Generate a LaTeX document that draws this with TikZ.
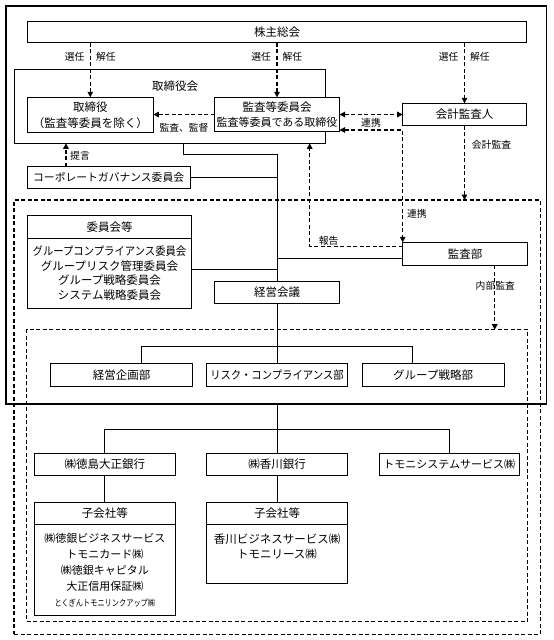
\documentclass[tikz,border=0pt]{standalone}
\usepackage{fontspec}
\usepackage{graphicx}
\newfontfamily\jp{Noto Sans CJK JP}
\usetikzlibrary{arrows.meta}
\begin{document}
\begin{tikzpicture}[x=1pt,y=-1pt,
 every node/.style={inner sep=0pt, outer sep=0pt},
 >={Triangle[length=5.5pt,width=5.5pt]},
 bx/.style={draw, line width=1pt, align=center, font=\jp\fontsize{11.5}{15.5}\selectfont},
 wb/.style={bx, fill=white},
 lb/.style={font=\jp\fontsize{9.8}{12}\selectfont},
 ln/.style={line width=1pt},
 da/.style={line width=1.1pt, dash pattern=on 4pt off 2.5pt},
 fr/.style={draw, line width=1.5pt},
 dfr/.style={draw, line width=1.1pt, dash pattern=on 4pt off 2.5pt}]
\useasboundingbox (0,0) rectangle (554,640);
% frames
\node[fr, minimum width=540.5pt, minimum height=398pt] (outer) at (276.25,205) {};
\node[dfr, minimum width=526.3pt, minimum height=434.3pt] (grp) at (277.15,417.15) {};
\node[dfr, minimum width=501pt, minimum height=292pt] (inner) at (277.2,475.7) {};
% boxes
\node[bx, minimum width=499pt, minimum height=21pt] (kabu) at (277,32.2) {株主総会};
\node[bx, minimum width=311.3pt, minimum height=74.3pt] (torikai) at (169.65,106.15) {};
\node[font=\jp\fontsize{11.5}{14}\selectfont] (torikailbl) at (175,86) {取締役会};
\node[bx, minimum width=126pt, minimum height=35.4pt] (tori) at (90.3,115) {取締役\\（監査等委員を除く）};
\node[wb, minimum width=125pt, minimum height=34.4pt] (kansa) at (277,114.5) {監査等委員会\\{\fontsize{11}{15.5}\selectfont 監査等委員である取締役}};
\node[bx, minimum width=123.6pt, minimum height=22.4pt] (kaikei) at (464.5,114.5) {会計監査人};
\node[bx, font=\jp\fontsize{10.8}{13}\selectfont, minimum width=162.7pt, minimum height=21.6pt] (cg) at (108.65,177.5) {コーポレートガバナンス委員会};
\node[bx, minimum width=164.4pt, minimum height=22.3pt] (iinh) at (109.5,226.85) {委員会等};
\node[bx, minimum width=164.4pt, minimum height=70pt, font=\jp\fontsize{11.5}{14.5}\selectfont] (iinb) at (109.5,273) {\scalebox{0.9}[1]{グループコンプライアンス委員会}\\グループリスク管理委員会\\グループ戦略委員会\\システム戦略委員会};
\node[bx, minimum width=125pt, minimum height=22pt] (keiei) at (277,292) {経営会議};
\node[bx, minimum width=125pt, minimum height=23pt] (kansabu) at (465.2,253.8) {監査部};
\node[bx, minimum width=142pt, minimum height=23.3pt] (kikaku) at (121.7,374.7) {経営企画部};
\node[bx, minimum width=141pt, minimum height=23.3pt] (risk) at (277,374.7) {\scalebox{0.9}[1]{リスク・コンプライアンス部}};
\node[bx, minimum width=142.3pt, minimum height=23.3pt] (gsen) at (433.15,374.7) {グループ戦略部};
\node[bx, minimum width=141.7pt, minimum height=21.7pt] (toku) at (104.85,464.15) {㈱徳島大正銀行};
\node[bx, minimum width=141pt, minimum height=21.7pt] (kaga) at (277,464.15) {㈱香川銀行};
\node[bx, font=\jp\fontsize{11}{13}\selectfont, minimum width=140pt, minimum height=21.7pt] (tomo) at (449.3,464.15) {トモニシステムサービス㈱};
\node[bx, minimum width=141.7pt, minimum height=22.3pt] (sub1h) at (104.85,513.15) {子会社等};
\node[bx, minimum width=141.7pt, minimum height=91pt, font=\jp\fontsize{11}{16}\selectfont] (sub1b) at (104.85,569.8) {㈱徳銀ビジネスサービス\\トモニカード㈱\\㈱徳銀キャピタル\\大正信用保証㈱\\\scalebox{0.8}[1]{\fontsize{9}{16}\selectfont とくぎんトモニリンクアップ㈱}};
\node[bx, minimum width=141pt, minimum height=22.3pt] (sub2h) at (277,513.15) {子会社等};
\node[bx, minimum width=141pt, minimum height=59pt] (sub2b) at (277,553.8) {香川ビジネスサービス㈱\\トモニリース㈱\\\mbox{}};
% solid connectors
\draw[ln] ([xshift=13.6pt]torikai.south) -- ++(0,10.7) -| (keiei.north);
\draw[ln] (cg.east) -- (cg.east -| keiei.north);
\draw[ln] ([yshift=3.3pt]iinb.east) -- ([yshift=3.3pt]iinb.east -| keiei.north);
\draw[ln] ([yshift=-4.2pt]kansabu.west) -- ([yshift=-4.2pt]kansabu.west -| keiei.north);
\coordinate (b1) at (277,346.3);
\draw[ln] (keiei.south) -- (risk.north);
\draw[ln] ([xshift=20pt]kikaku.north) |- (b1) -| ([xshift=-20.2pt]gsen.north);
\draw[ln] (outer.south -| kaga.north) -- (kaga.north);
\coordinate (b2) at (277,429.3);
\draw[ln] (toku.north) |- (b2) -| (tomo.north);
\draw[ln] (toku.south) -- (sub1h.north);
\draw[ln] (kaga.south) -- (sub2h.north);
% dashed arrows
\draw[da,->] (kabu.south -| tori.north) -- (tori.north);
\draw[da,->] (kabu.south -| kansa.north) -- (kansa.north);
\draw[da,->] (kabu.south -| kaikei.north) -- (kaikei.north);
\draw[da,->] (kansa.west) -- (kansa.west -| tori.east);
\draw[da,<->] (kansa.east) -- (kaikei.west);
\draw[da,<->] ([yshift=-15.5pt]kansa.east) -| (kansabu.north west);
\draw[da,->] ([yshift=7.5pt]kansabu.west) -| ([xshift=-15.6pt]torikai.south east);
\draw[da,->] (kaikei.south) -- (kaikei.south |- grp.north);
\draw[da,->] ([xshift=29.5pt]kansabu.south) -- ([xshift=29.5pt]kansabu.south |- inner.north);
\draw[da,->] ([xshift=-42.7pt]cg.north) -- ([xshift=-42.7pt]cg.north |- torikai.south);
% labels
\node[lb, anchor=east] (sen1) at (84.5,57) {選任};
\node[lb, anchor=west] (kai1) at (96,57) {解任};
\node[lb, anchor=east] (sen2) at (271,57) {選任};
\node[lb, anchor=west] (kai2) at (282.5,57) {解任};
\node[lb, anchor=east] (sen3) at (458.5,57) {選任};
\node[lb, anchor=west] (kai3) at (470,57) {解任};
\node[lb] (kanlbl) at (184,128) {監査、監督};
\node[lb] (ren1) at (371,122.5) {連携};
\node[lb, anchor=west] (ren2) at (407,213.5) {連携};
\node[lb] (kaikeilbl) at (491.5,144.3) {会計監査};
\node[lb] (hokoku) at (328.7,240.7) {報告};
\node[lb] (naibu) at (495.3,285.7) {内部監査};
\node[lb] (teigen) at (80,156) {提言};
\end{tikzpicture}
\end{document}
